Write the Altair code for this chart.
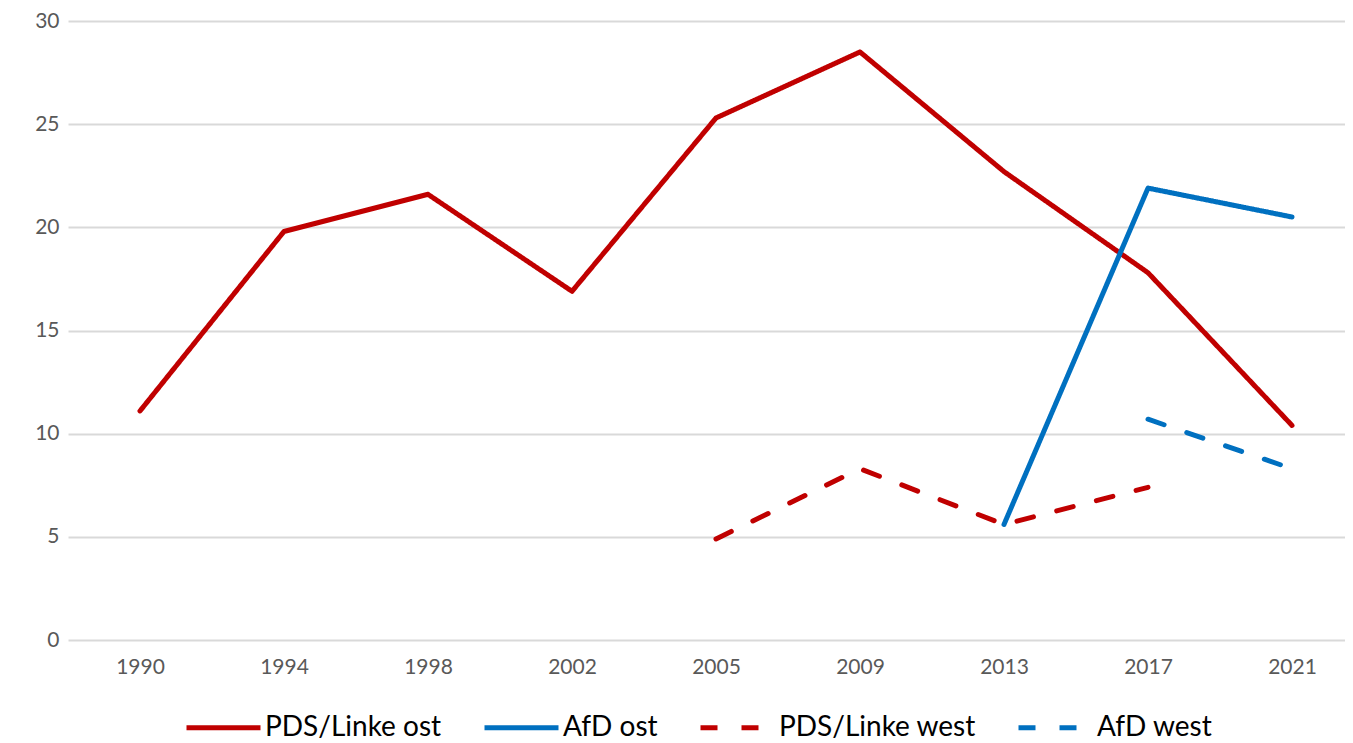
import altair as alt
import pandas as pd

years = ["1990", "1994", "1998", "2002", "2005", "2009", "2013", "2017", "2021"]
series_names = ["PDS/Linke ost", "AfD ost", "PDS/Linke west", "AfD west"]

pds_ost = [11.1, 19.8, 21.6, 16.9, 25.3, 28.5, 22.7, 17.8, 10.4]
afd_ost = [None, None, None, None, None, None, 5.6, 21.9, 20.5]
pds_west = [None, None, None, None, 4.9, 8.3, 5.6, 7.4, None]
afd_west = [None, None, None, None, None, None, None, 10.7, 8.3]

colors = ["#C00000", "#0070C0", "#C00000", "#0070C0"]
dashes = [[1, 0], [1, 0], [17, 24], [17, 24]]

rows = []
for name, vals in zip(series_names, [pds_ost, afd_ost, pds_west, afd_west]):
    for y, v in zip(years, vals):
        if v is not None:
            rows.append({"Jahr": y, "Serie": name, "Wert": v})
df = pd.DataFrame(rows)

FONT = "Lato"

chart = alt.Chart(df).mark_line(strokeWidth=5, strokeCap="round", strokeJoin="round").encode(
    x=alt.X("Jahr:O", sort=years, title=None,
            scale=alt.Scale(type="point", padding=0.434, align=0.576),
            axis=alt.Axis(labelAngle=0, domain=False, ticks=False, grid=False,
                          labelFont=FONT, labelFontSize=21, labelColor="#595959",
                          labelPadding=16)),
    y=alt.Y("Wert:Q", title=None,
            scale=alt.Scale(domain=[0, 30], nice=False),
            axis=alt.Axis(values=[0, 5, 10, 15, 20, 25, 30], domain=False, ticks=False,
                          gridColor="#D9D9D9", gridWidth=2,
                          labelFont=FONT, labelFontSize=21, labelColor="#595959",
                          labelPadding=9)),
    color=alt.Color("Serie:N", sort=series_names,
                    scale=alt.Scale(domain=series_names, range=colors),
                    legend=alt.Legend(title=None, orient="none", legendX=116, legendY=667,
                                      direction="horizontal", columns=4,
                                      symbolType="stroke", symbolSize=5476,
                                      symbolStrokeWidth=5, labelFont=FONT,
                                      labelFontSize=28, labelColor="#000000",
                                      labelLimit=500,
                                      labelOffset=2, columnPadding=32)),
    strokeDash=alt.StrokeDash("Serie:N", sort=series_names,
                              scale=alt.Scale(domain=series_names, range=dashes),
                              legend=None),
    order=alt.Order("Serie:N"),
).properties(
    width=1277, height=619,
    autosize=alt.AutoSizeParams(type="none"),
    padding={"left": 60, "top": 13, "right": 0, "bottom": 102},
).configure_view(stroke=None)

chart.save("out.html", embed_options={"renderer": "svg", "actions": False})
